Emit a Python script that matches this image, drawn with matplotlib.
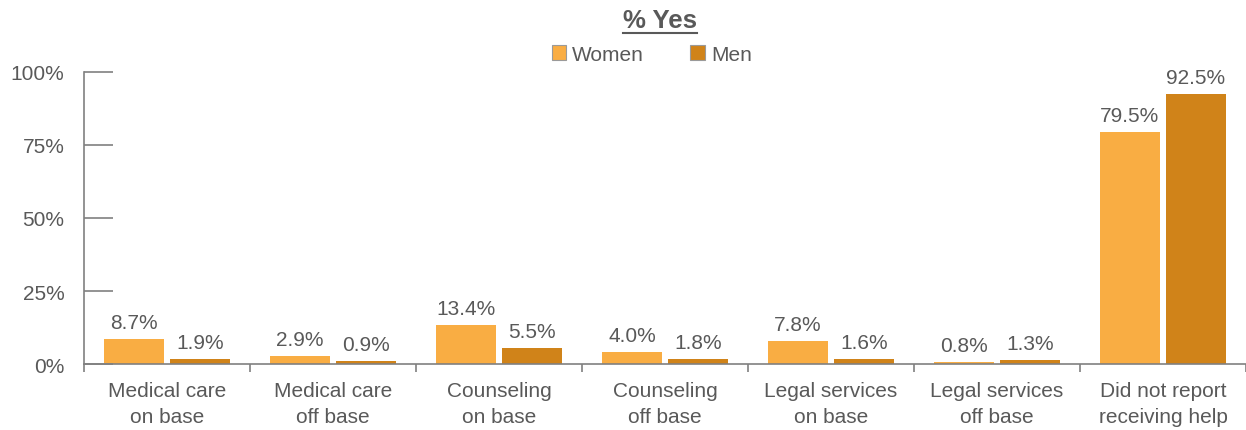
import matplotlib.pyplot as plt
import numpy as np
from matplotlib.lines import Line2D

categories = [
  "Medical care\non base",
  "Medical care\noff base",
  "Counseling\non base",
  "Counseling\noff base",
  "Legal services\non base",
  "Legal services\noff base",
  "Did not report\nreceiving help",
]
women = [8.7, 2.9, 13.4, 4.0, 7.8, 0.8, 79.5]
men = [1.9, 0.9, 5.5, 1.8, 1.6, 1.3, 92.5]
yticks = [0, 25, 50, 75, 100]

WOMEN_COLOR = "#F9AD43"
MEN_COLOR = "#D08319"
TEXT = "#595959"
AXIS = "#808080"

plt.rcParams["font.family"] = ["Liberation Sans", "DejaVu Sans"]

fig = plt.figure(figsize=(12.46, 4.31), dpi=100)
ax = fig.add_axes([0.0674, 0.153, 0.9326, 0.678])

x = np.arange(len(categories))
width = 0.36
offset = 0.199
b1 = ax.bar(x - offset, women, width, color=WOMEN_COLOR, label="Women")
b2 = ax.bar(x + offset, men, width, color=MEN_COLOR, label="Men")

for bars, vals in ((b1, women), (b2, men)):
  for rect, v in zip(bars, vals):
    ax.annotate(f"{v:.1f}%", (rect.get_x() + rect.get_width() / 2, rect.get_height()),
                xytext=(0, 5), textcoords="offset points", ha="center", va="bottom",
                fontsize=15, color=TEXT)

ax.set_xlim(-0.5, len(categories) - 0.5)
ax.set_ylim(0, 100)
ax.set_yticks(yticks)
ax.set_yticklabels([f"{t}%" for t in yticks])

# category labels centred, tick marks on the group boundaries
ax.set_xticks(x)
ax.set_xticklabels(categories, linespacing=1.45)
ax.tick_params(axis="x", which="major", length=0, pad=12.5, labelsize=15, labelcolor=TEXT)
ax.set_xticks(np.arange(len(categories) + 1) - 0.5, minor=True)
ax.tick_params(axis="x", which="minor", length=6, direction="out", color=AXIS, width=1.2)
ax.tick_params(axis="y", length=21, direction="in", color=AXIS, width=1.2,
               labelsize=15, labelcolor=TEXT, pad=14)

for side in ("top", "right"):
  ax.spines[side].set_visible(False)
for side in ("left", "bottom"):
  ax.spines[side].set_color(AXIS)
  ax.spines[side].set_linewidth(1.2)

leg = fig.legend(handles=[b1, b2], labels=["Women", "Men"], loc="center",
                 bbox_to_anchor=(0.523, 0.872), ncol=2, frameon=False, fontsize=15,
                 handlelength=0.7, handleheight=0.7, handletextpad=0.3,
                 columnspacing=2.2, labelcolor=TEXT)
for h in leg.legend_handles:
  h.set_edgecolor("#9a9a9a")
  h.set_linewidth(0.8)

title = fig.text(0.53, 0.952, "% Yes", ha="center", va="center",
                 fontsize=18.5, fontweight="bold", color=TEXT)

# underline the title
fig.canvas.draw()
bb = title.get_window_extent(fig.canvas.get_renderer()).transformed(fig.transFigure.inverted())
fig.add_artist(Line2D([bb.x0, bb.x1], [bb.y0 - 0.004, bb.y0 - 0.004],
                      transform=fig.transFigure, color=TEXT, linewidth=1.5))

fig.savefig("out.png", dpi=100)
